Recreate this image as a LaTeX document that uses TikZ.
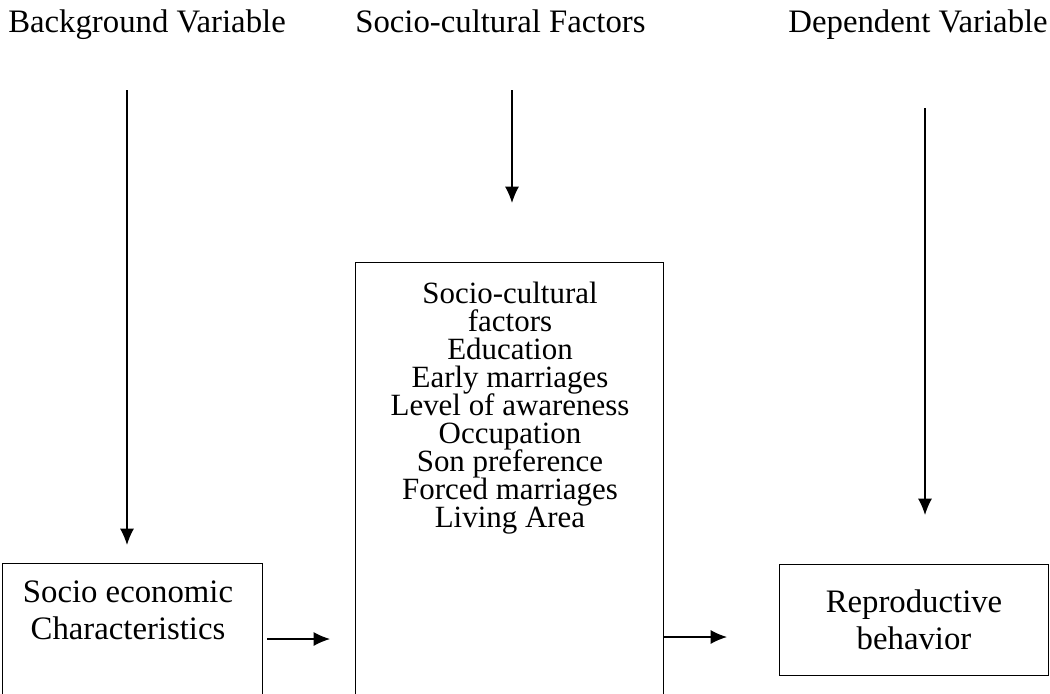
\documentclass[tikz,border=0pt]{standalone}
\usepackage{fontspec}
\setmainfont{Liberation Serif}
\usetikzlibrary{arrows.meta}
\newcommand\Serre{\lineskiplimit=-100pt\relax}
\begin{document}
\begin{tikzpicture}[x=0.025cm,y=-0.025cm]
	\tikzstyle{fleche}=[-{Latex[length=4.1mm,width=3.5mm]},line width=0.9pt]
	\tikzstyle{boite}=[draw,line width=0.7pt,inner sep=0pt]
	\tikzstyle{titre}=[inner sep=0pt,font=\fontsize{23.3}{20}\selectfont]
	\tikzstyle{texte}=[inner sep=0pt,align=center,font=\fontsize{22}{19.9}\selectfont\Serre]
	\tikzstyle{texteB}=[inner sep=0pt,align=center,font=\fontsize{23.3}{26}\selectfont]
	\useasboundingbox (0,0) rectangle (1050,693);
	\clip (0,0) rectangle (1050,693);
	%
	\node[titre,anchor=base west] (Fond) at (8,32) {Background Variable};
	\node[titre,anchor=base west] (Socio) at (355,32) {Socio-cultural Factors};
	\node[titre,anchor=base east] (Dep) at (1048,32) {Dependent Variable};
	%
	\node[boite,minimum width=6.475cm,minimum height=4.9cm] (SE) at (132.5,662) {};
	\node[boite,minimum width=7.675cm,minimum height=12.425cm] (SC) at (509.5,511.5) {};
	\node[boite,minimum width=6.7cm,minimum height=2.775cm] (RB) at (914,619.5) {};
	%
	\node[texteB,anchor=north] (SEt) at (128,581) {Socio economic\\Characteristics};
	\node[texte,anchor=north] (SCt) at (510,282) {Socio-cultural\\factors\\Education\\Early marriages\\Level of awareness\\Occupation\\Son preference\\Forced marriages\\Living Area};
	\node[texteB] (RBt) at (RB) {Reproductive\\behavior};
	%
	\coordinate (Fa) at (127,90);\coordinate (Fb) at (127,545);
	\coordinate (Sa) at (512,90);\coordinate (Sb) at (512,203);
	\coordinate (Da) at (925,108);\coordinate (Db) at (925,515);
	\coordinate (Ha) at (267,639);\coordinate (Hb) at (330,639);
	\coordinate (Ka) at (SC.east |- 0,637);\coordinate (Kb) at (727,637);
	%
	\draw[fleche] (Fa)--(Fb);
	\draw[fleche] (Sa)--(Sb);
	\draw[fleche] (Da)--(Db);
	\draw[fleche] (Ha)--(Hb);
	\draw[fleche] (Ka)--(Kb);
\end{tikzpicture}
\end{document}
